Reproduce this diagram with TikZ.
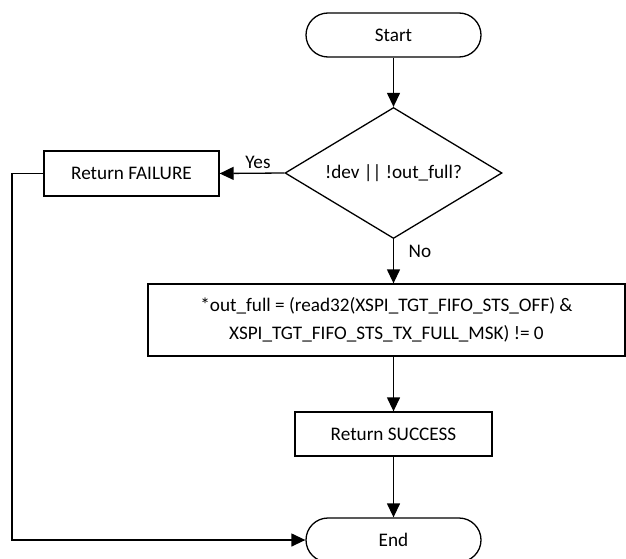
\documentclass[tikz,border=0pt]{standalone}
\usepackage{fontspec}
\setmainfont{Carlito}
\usetikzlibrary{shapes.geometric,arrows.meta}
\begin{document}
\begin{tikzpicture}[x=1pt,y=-1pt,
  every node/.style={font=\fontsize{19.2}{28}\selectfont, text=black},
  terminal/.style={draw, rectangle, rounded corners=22pt, minimum width=175pt,
    minimum height=44pt, line width=1.3pt},
  process/.style={draw, rectangle, minimum height=44pt, line width=1.3pt},
  decision/.style={draw, diamond, aspect=1.66, minimum width=217pt,
    minimum height=131pt, inner sep=0pt, line width=1.3pt},
  flow/.style={-{Triangle[length=14pt,width=13pt]}, line width=1.3pt},
  edgelabel/.style={inner sep=0pt}]
\useasboundingbox (0,0) rectangle (626,559);

% flow nodes
\node[terminal] (start) at (393.5,35) {Start};
\node[decision] (dec) at (393.5,173) {!dev || !out\_full?};
\node[process, minimum width=175pt, minimum height=45pt] (fail) at (131.5,173.5) {Return FAILURE};
\node[process, minimum width=477pt, minimum height=72pt, align=center] (calc) at (386.5,320)
  {*out\_full = (read32(XSPI\_TGT\_FIFO\_STS\_OFF) \&\\XSPI\_TGT\_FIFO\_STS\_TX\_FULL\_MSK) != 0};
\node[process, minimum width=197pt] (succ) at (393.5,434) {Return SUCCESS};
\node[terminal] (end) at (393.5,540) {End};

% branch labels
\node[edgelabel] (yes) at (258,162) {Yes};
\node[edgelabel] (no) at (420,251) {No};

% left rail of the failure path
\coordinate (rail) at (12,173.5);

% connectors
\draw[flow] (start.south) -- (dec.north);
\draw[flow] (dec.west) -- (fail.east);
\draw[flow] (dec.south) -- (dec.south |- calc.north);
\draw[flow] (dec.south |- calc.south) -- (succ.north);
\draw[flow] (succ.south) -- (end.north);
\draw[flow] (fail.west) -- (rail) |- (end.west);
\end{tikzpicture}
\end{document}
